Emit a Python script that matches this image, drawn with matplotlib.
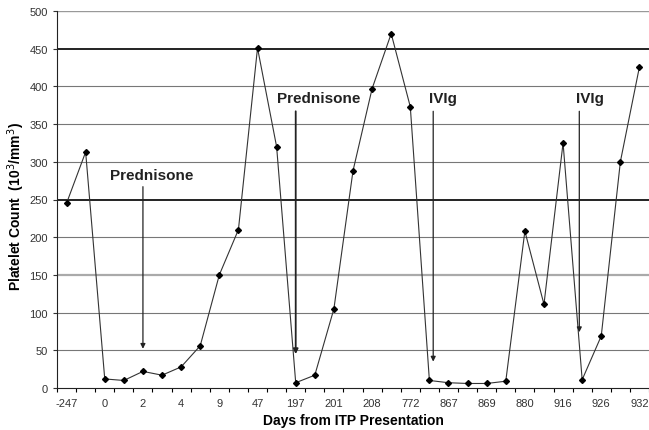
import matplotlib
matplotlib.use("Agg")
import matplotlib.pyplot as plt
import numpy as np

plt.rcParams['font.family'] = ['Liberation Sans', 'DejaVu Sans']

# day labels (only every other category is labelled)
days = ['-247', '', '0', '', '2', '', '4', '', '9', '', '47', '', '197', '', '201', '',
        '208', '', '772', '', '867', '', '869', '', '880', '', '916', '', '926', '', '932']
platelets = [245, 313, 12, 10, 22, 17, 28, 56, 150, 210, 451, 320, 7, 17, 105, 288,
             397, 470, 373, 10, 7, 6, 6, 9, 208, 111, 325, 11, 69, 300, 426]

# treatments: label, category position, arrow start, arrow end, label spot
treat_names = ['Prednisone', 'Prednisone', 'IVIg', 'IVIg']
treat_pos = [4, 12, 19.2, 26.85]
treat_top = [267, 367, 367, 367]
treat_end = [52, 45, 35, 74]
treat_label_x = [4.45, 13.2, 19.7, 27.4]
treat_label_y = [282, 385, 385, 385]

x = np.arange(len(platelets))

fig = plt.figure(figsize=(6.49, 4.31), dpi=100)
ax = fig.add_axes([57 / 649, 1 - 389 / 431, 592 / 649, 377 / 431])

# horizontal grid lines
for y in range(50, 501, 50):
    if y in (250, 450):
        ax.axhline(y, color='#111111', lw=1.3, zorder=1)
    elif y == 150:
        ax.axhline(y, color='#aaaaaa', lw=1.6, zorder=1)
    elif y == 500:
        ax.axhline(y, color='#999999', lw=1.0, zorder=1)
    else:
        ax.axhline(y, color='#777777', lw=0.8, zorder=1)

ax.plot(x, platelets, color='#333333', lw=0.8, marker='D', markersize=3,
        markerfacecolor='black', markeredgecolor='black', zorder=3)

for name, px, top, end, lx, ly in zip(treat_names, treat_pos, treat_top, treat_end,
                                      treat_label_x, treat_label_y):
    lw = 1.3 if name == 'Prednisone' and px > 10 else 0.9
    ax.annotate('', xy=(px, end), xytext=(px, top),
                arrowprops=dict(arrowstyle='-|>', color='#222222', lw=lw,
                                mutation_scale=7, shrinkA=0, shrinkB=0), zorder=4)
    ax.text(lx, ly, name, ha='center', va='center', fontsize=11,
            fontweight='bold', color='#222222')

ax.set_xlim(-0.5, len(platelets) - 0.5)
ax.set_ylim(0, 500)
ax.set_yticks(range(0, 501, 50))
ax.tick_params(axis='y', labelsize=8, length=3, direction='out', colors='#333333')

ax.set_xticks(np.arange(-0.5, len(platelets), 1.0))
ax.set_xticklabels([])
ax.set_xticks(x, minor=True)
ax.set_xticklabels(days, minor=True)
ax.tick_params(axis='x', which='major', length=3, direction='out')
ax.tick_params(axis='x', which='minor', length=0, labelsize=8, pad=7, colors='#333333')

for s in ('top', 'right'):
    ax.spines[s].set_visible(False)
ax.spines['left'].set_color('#222222')
ax.spines['bottom'].set_color('#222222')

ax.set_xlabel('Days from ITP Presentation', fontsize=10, fontweight='bold', labelpad=4)
ax.set_ylabel('Platelet Count  (10$^3$/mm$^3$)', fontsize=10, fontweight='bold')
ax.yaxis.label.set_va('center')
ax.yaxis.set_label_coords(-41 / 592, 0.485)

fig.savefig('out.png', dpi=100)
